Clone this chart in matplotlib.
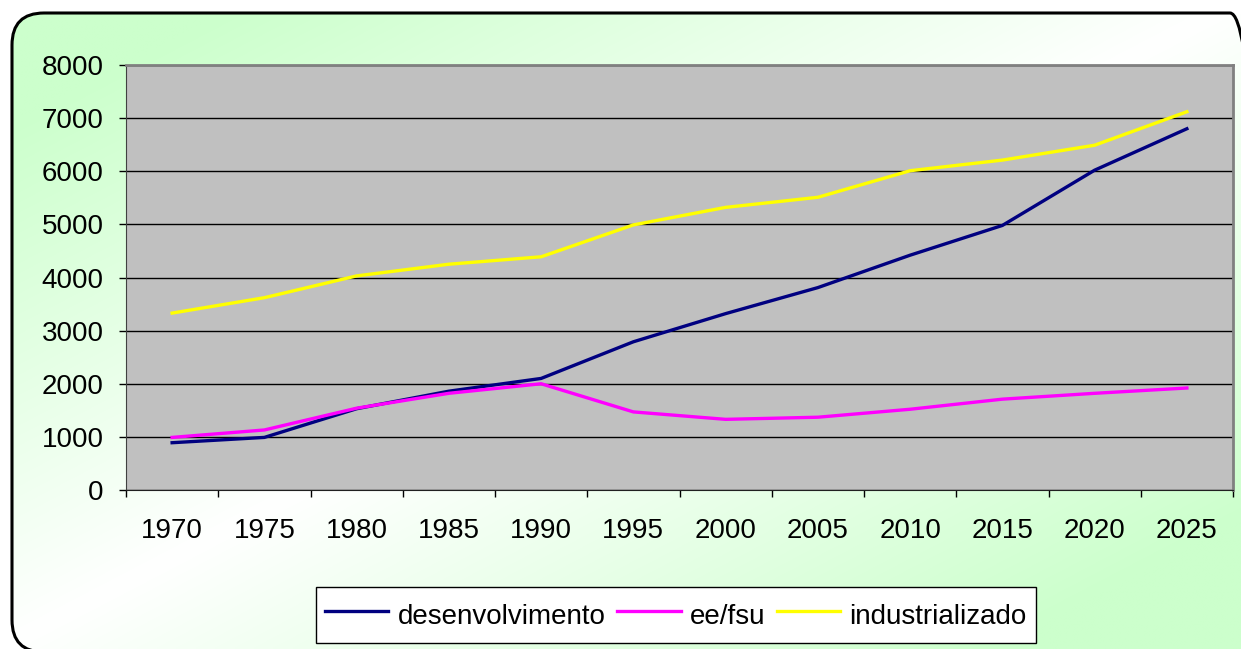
import numpy as np
import matplotlib
matplotlib.use('Agg')
import matplotlib.pyplot as plt
from matplotlib.patches import FancyBboxPatch

plt.rcParams['font.family'] = ['Liberation Sans', 'DejaVu Sans']

# ============================
# Datos
# ============================
anos = ['1970', '1975', '1980', '1985', '1990', '1995',
        '2000', '2005', '2010', '2015', '2020', '2025']
desenvolvimento = [890, 990, 1530, 1860, 2100, 2790, 3320, 3810, 4420, 4980, 6020, 6800]
ee_fsu = [990, 1130, 1540, 1820, 2000, 1470, 1330, 1370, 1520, 1710, 1820, 1920]
industrializado = [3330, 3620, 4030, 4250, 4390, 4990, 5320, 5510, 6010, 6210, 6490, 7120]

W, H = 1241, 649
fig = plt.figure(figsize=(W / 100, H / 100), dpi=100)
fig.patch.set_facecolor('white')

# ============================
# Fondo degradado dentro de un marco redondeado
# ============================
bg = fig.add_axes([0, 0, 1, 1], zorder=-10)
bg.set_xlim(0, W); bg.set_ylim(0, H)
bg.axis('off')

gx, gy = np.meshgrid(np.linspace(0, 1, 400), np.linspace(0, 1, 220))
t = np.clip(np.abs(gx + gy - 1.0) * 1.25, 0, 1)  # 0 en la diagonal, 1 en las esquinas
verde = np.array([0.80, 1.0, 0.80])
img = 1.0 - (1.0 - verde)[None, None, :] * t[..., None]
im = bg.imshow(img, extent=[0, W, 0, H], origin='upper', aspect='auto',
               interpolation='bilinear')

# coordenadas del marco en píxeles (y hacia abajo)
x0, y0, x1, y1, rr = 12, 13, 1262, 652, 32
caja = dict(boxstyle='round,pad=0,rounding_size=%d' % rr)
clip = FancyBboxPatch((x0, H - y1), x1 - x0, y1 - y0, transform=bg.transData,
                      facecolor='none', edgecolor='none', **caja)
bg.add_patch(clip)
im.set_clip_path(clip)
marco = FancyBboxPatch((x0, H - y1), x1 - x0, y1 - y0, facecolor='none',
                       edgecolor='black', linewidth=2.2, zorder=3, **caja)
bg.add_patch(marco)

# ============================
# Gráfico
# ============================
ax = fig.add_axes([126 / W, 1 - 490 / H, (1233 - 126) / W, (490 - 65) / H])
ax.set_facecolor('#C0C0C0')
x = np.arange(len(anos))

ax.plot(x, desenvolvimento, color='#000080', linewidth=2.4, label='desenvolvimento')
ax.plot(x, ee_fsu, color='#FF00FF', linewidth=2.4, label='ee/fsu')
ax.plot(x, industrializado, color='#FFFF00', linewidth=2.4, label='industrializado')

ax.set_xlim(-0.5, len(anos) - 0.5)
ax.set_ylim(0, 8000)
ax.set_yticks(np.arange(0, 8001, 1000))
ax.yaxis.grid(True, color='black', linewidth=1.0)
ax.set_axisbelow(True)

ax.set_xticks(x)
ax.set_xticklabels(anos)
ax.set_xticks(np.arange(-0.5, len(anos), 1), minor=True)
ax.tick_params(axis='x', which='major', length=0, pad=20.5, labelsize=20)
ax.tick_params(axis='x', which='minor', length=5, width=1, direction='out')
ax.tick_params(axis='y', length=5, width=1, direction='out', pad=11, labelsize=20)

for s in ['top', 'right']:
    ax.spines[s].set_color('#808080')
    ax.spines[s].set_linewidth(2)
ax.spines['left'].set_color('#404040')
ax.spines['bottom'].set_color('#202020')

leg = fig.legend(loc='center', bbox_to_anchor=(676 / W, 1 - 615 / H), ncol=3,
                 fontsize=20, frameon=True, fancybox=False, handlelength=2.27,
                 handleheight=1.6, handletextpad=0.33, columnspacing=0.43,
                 borderpad=0.35, borderaxespad=0)
leg.get_frame().set_edgecolor('black')
leg.get_frame().set_linewidth(1.0)
leg.get_frame().set_facecolor('white')
leg.get_frame().set_alpha(1)

fig.savefig('out.png', dpi=100)
